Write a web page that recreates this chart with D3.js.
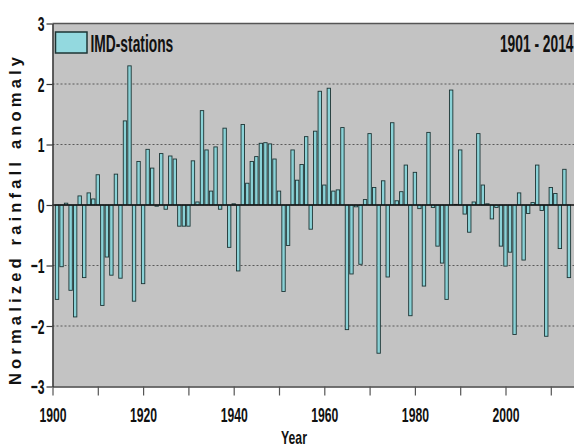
<!DOCTYPE html>
<html>
<head>
<meta charset="utf-8">
<script src="https://cdn.jsdelivr.net/npm/d3@7"></script>
<style>
  html, body { margin: 0; padding: 0; background: #ffffff; }
  svg { display: block; }
  .lbl { font-family: "Liberation Sans", Arial, sans-serif; font-weight: bold; fill: #111; }
</style>
</head>
<body>
<svg id="chart" width="574" height="448"></svg>
<script>
// Indian summer monsoon rainfall, normalized anomaly per year (IMD stations)
const years = d3.range(1901, 2015);
const anomaly = [
  -1.56, -1.02,  0.03, -1.41, -1.85,  0.15, -1.20,  0.20,  0.10,  0.50, // 1901-1910
  -1.66, -0.86, -1.16,  0.51, -1.21,  1.39,  2.30, -1.59,  0.72, -1.30, // 1911-1920
   0.92,  0.61, -0.02,  0.85, -0.07,  0.81,  0.76, -0.35, -0.35, -0.35, // 1921-1930
   0.73,  0.05,  1.56,  0.91,  0.23,  0.96, -0.07,  1.27, -0.70,  0.02, // 1931-1940
  -1.09,  1.33,  0.36,  0.72,  0.80,  1.02,  1.03,  1.01,  0.76,  0.23, // 1941-1950
  -1.43, -0.67,  0.91,  0.41,  0.67,  1.13, -0.40,  1.22,  1.88,  0.33, // 1951-1960
   1.93,  0.23,  0.25,  1.28, -2.06, -1.14, -0.03, -0.98,  0.09,  1.18, // 1961-1970
   0.29, -2.45,  0.40, -1.19,  1.36,  0.07,  0.22,  0.66, -1.83,  0.54, // 1971-1980
  -0.06, -1.34,  1.20, -0.04, -0.68, -0.96, -1.56,  1.90,  0.01,  0.91, // 1981-1990
  -0.15, -0.45,  0.05,  1.18,  0.33,  0.02, -0.23, -0.04, -0.68, -1.01, // 1991-2000
  -0.78, -2.14,  0.20, -0.91, -0.14,  0.04,  0.66, -0.09, -2.17,  0.29, // 2001-2010
   0.19, -0.72,  0.59, -1.20                                              // 2011-2014
];
const xTicks = [1900, 1910, 1920, 1930, 1940, 1950, 1960, 1970, 1980, 1990, 2000, 2010, 2020];
const xTickLabels = [1900, 1920, 1940, 1960, 1980, 2000];
const yTicks = [-3, -2, -1, 0, 1, 2, 3];
const gridValues = [-2, -1, 1, 2];
const seriesName = "IMD-stations";
const periodText = "1901 - 2014";

const svg = d3.select("#chart");
const plotLeft = 52.5, plotTop = 23.5, plotBottom = 386.5;
const perYear = 4.53;
const squeeze = 0.58;   // horizontal compression for the narrow bold labels

const x = d3.scaleLinear().domain([1900, 2020]).range([plotLeft, plotLeft + 120 * perYear]);
const y = d3.scaleLinear().domain([-3, 3]).range([plotBottom, plotTop]);

// narrow bold text helper
function narrowText(px, py, str, size, sx, anchor) {
  svg.append("g")
    .attr("transform", `translate(${px},${py}) scale(${sx},1)`)
    .append("text").attr("class", "lbl")
    .attr("font-size", size)
    .attr("text-anchor", anchor)
    .text(str);
}

// plot background
svg.append("rect")
  .attr("x", x(1900)).attr("y", y(3))
  .attr("width", x(2020) - x(1900)).attr("height", y(-3) - y(3))
  .attr("fill", "#c3c3c3");

// dotted gridlines
svg.append("g").selectAll("line").data(gridValues).join("line")
  .attr("x1", x(1900)).attr("x2", x(2020))
  .attr("y1", d => y(d)).attr("y2", d => y(d))
  .attr("stroke", "#5a5a5a").attr("stroke-width", 1)
  .attr("stroke-dasharray", "2,2");

// bars
const barW = 3.4;
svg.append("g").selectAll("rect").data(years).join("rect")
  .attr("x", (d) => x(d) - barW / 2)
  .attr("y", (d, i) => y(Math.max(0, anomaly[i])))
  .attr("width", barW)
  .attr("height", (d, i) => Math.abs(y(anomaly[i]) - y(0)))
  .attr("fill", "#8ad2d7")
  .attr("stroke", "#1d3535")
  .attr("stroke-width", 0.9);

// zero line
svg.append("line")
  .attr("x1", x(1900)).attr("x2", x(2020))
  .attr("y1", y(0)).attr("y2", y(0))
  .attr("stroke", "#111").attr("stroke-width", 1.5);

// top frame
svg.append("line")
  .attr("x1", x(1900)).attr("x2", x(2020))
  .attr("y1", y(3)).attr("y2", y(3))
  .attr("stroke", "#555").attr("stroke-width", 1.5);

// x axis
const xAxis = d3.axisBottom(x).tickValues(xTicks).tickSize(9).tickSizeOuter(0)
  .tickFormat(d => xTickLabels.includes(d) ? d : "");
const gx = svg.append("g").attr("transform", `translate(0,${y(-3)})`).call(xAxis);
gx.select(".domain").attr("stroke", "#444").attr("stroke-width", 1.5);
gx.selectAll(".tick line").attr("stroke", "#555").attr("stroke-width", 1.2);
gx.selectAll(".tick text").attr("class", "lbl").attr("font-size", 21)
  .attr("y", 35.5).attr("dy", 0)
  .attr("transform", `scale(${squeeze},1)`);

// y axis
const yAxis = d3.axisLeft(y).tickValues(yTicks).tickSize(6).tickSizeOuter(0)
  .tickFormat(d3.format("d"));
const gy = svg.append("g").attr("transform", `translate(${x(1900)},0)`).call(yAxis);
gy.select(".domain").attr("stroke", "#333").attr("stroke-width", 1.5);
gy.selectAll(".tick line").attr("stroke", "#333").attr("stroke-width", 1.2);
gy.selectAll(".tick text").attr("class", "lbl").attr("font-size", 21)
  .attr("x", -8 / squeeze).attr("dy", "0.35em")
  .attr("transform", `scale(${squeeze},1)`);

// axis titles
narrowText(294, 443.5, "Year", 17.5, 0.7, "middle");

svg.append("text")
  .attr("transform", "translate(21,221) rotate(-90)")
  .attr("text-anchor", "middle")
  .attr("class", "lbl")
  .attr("font-size", 16.5)
  .attr("textLength", 328).attr("lengthAdjust", "spacing")
  .text("Normalized rainfall anomaly");

// legend
svg.append("rect")
  .attr("x", 55.5).attr("y", 32).attr("width", 31.5).attr("height", 21)
  .attr("fill", "#93d9df").attr("stroke", "#1d3535").attr("stroke-width", 1.5);
narrowText(90.5, 51.7, seriesName, 23, 0.6, "start");

// period note
narrowText(573.5, 51.7, periodText, 23, 0.6, "end");
</script>
</body>
</html>
